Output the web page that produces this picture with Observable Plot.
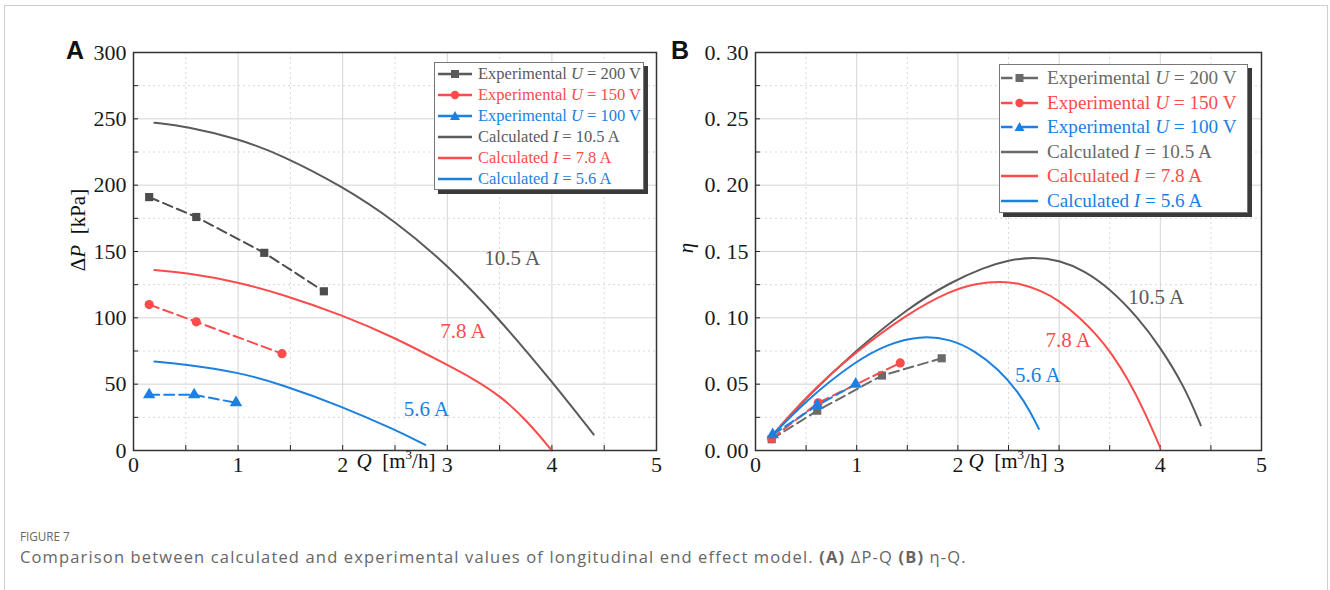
<!DOCTYPE html>
<html><head><meta charset="utf-8">
<script src="https://cdn.jsdelivr.net/npm/d3@7"></script>
<script src="https://cdn.jsdelivr.net/npm/@observablehq/plot@0.6"></script>
<style>
body{margin:0;background:#fff;}
#fig{position:relative;width:1330px;height:590px;overflow:hidden;font-family:"Liberation Serif",serif;}
.border{position:absolute;left:4px;top:5px;width:1322px;height:620px;border:1px solid #cfcfcf;}
.letter{position:absolute;font-family:"Liberation Sans",Arial,sans-serif;font-weight:bold;font-size:25px;color:#111;}
.axlab{position:absolute;font-size:21px;color:#111;white-space:nowrap;}
.legend{position:absolute;background:#fff;border:1px solid #777;box-shadow:4px 4px 0 #3a3a3a;}
.row{position:absolute;left:0;white-space:nowrap;display:flex;align-items:center;}
.row svg{display:block;}
.cap1{position:absolute;left:20px;top:527px;font-family:"Open Sans",sans-serif;font-size:13px;color:#666;transform:scaleX(0.9);transform-origin:left;}
.cap2{position:absolute;left:20px;top:545px;font-family:"Open Sans",sans-serif;font-size:16.5px;letter-spacing:1.15px;color:#666;white-space:nowrap;}
</style></head>
<body><div id="fig"><div class="border"></div></div>
<script>
// ---------- data ----------
const GRAY = "#5a5a5a", GRAYEXP = "#4d4d4d", GRAYEXP_B = "#6a6a6a", RED = "#fb4b4b", BLUE = "#1b80df";

const xMajor = [0, 1, 2, 3, 4, 5];
const xMinor = [0.5, 1.5, 2.5, 3.5, 4.5];
const yMajorA = [0, 50, 100, 150, 200, 250, 300];
const yMinorA = [25, 75, 125, 175, 225, 275];
const yMajorB = [0, 0.05, 0.10, 0.15, 0.20, 0.25, 0.30];
const yMinorB = [0.025, 0.075, 0.125, 0.175, 0.225, 0.275];

// Panel A: calculated ΔP (kPa) vs Q (m3/h)
const qCalcA105 = [0.2, 0.5, 1, 1.41, 2, 2.5, 3, 3.5, 4, 4.4];
const pCalc105  = [247, 244.5, 235, 223, 199, 173, 140, 99, 52, 12];
const qCalcA78  = [0.2, 0.5, 1, 1.41, 2, 2.5, 3, 3.25, 3.5, 3.75, 4];
const pCalc78   = [136, 134, 127, 118, 102, 85, 64.5, 54, 41.5, 23.5, 0];
const qCalcA56  = [0.2, 0.5, 1, 1.41, 2, 2.5, 2.79];
const pCalc56   = [67, 65, 59, 50, 33, 15.6, 4.3];

// Experimental
const qExp200 = [0.15, 0.6, 1.25, 1.82];
const pExp200 = [191, 176, 149, 120];
const qExp150 = [0.15, 0.6, 1.42];
const pExp150 = [110, 97, 73];
const qExp100 = [0.15, 0.58, 0.98];
const pExp100 = [42, 42, 36];

// Panel B: efficiency η vs Q
const qCalcB105 = [0.15, 0.5, 1, 1.5, 1.93, 2.26, 2.5, 2.75, 3, 3.25, 3.5, 3.77, 4, 4.24, 4.4];
const eCalc105  = [0.010, 0.040, 0.076, 0.107, 0.127, 0.138, 0.1435, 0.146, 0.1435, 0.1355, 0.122, 0.101, 0.078, 0.048, 0.019];
const qCalcB78  = [0.15, 0.5, 1, 1.5, 1.93, 2.18, 2.42, 2.6, 2.82, 3.0, 3.2, 3.38, 3.52, 3.68, 3.85, 4.0];
const eCalc78   = [0.010, 0.041, 0.075, 0.103, 0.1206, 0.126, 0.1276, 0.1262, 0.1206, 0.113, 0.1005, 0.0865, 0.073, 0.054, 0.0286, 0.002];
const qCalcB56  = [0.15, 0.5, 1, 1.3, 1.62, 1.93, 2.16, 2.4, 2.6, 2.72, 2.8];
const eCalc56   = [0.010, 0.038, 0.068, 0.080, 0.0866, 0.084, 0.0754, 0.0616, 0.0437, 0.0286, 0.0163];

const qExpB200 = [0.16, 0.61, 1.25, 1.84];
const eExp200  = [0.0085, 0.030, 0.0565, 0.0695];
const qExpB150 = [0.16, 0.62, 1.43];
const eExp150  = [0.009, 0.036, 0.066];
const qExpB100 = [0.17, 0.61, 0.99];
const eExp100  = [0.012, 0.034, 0.050];

const curveLabels = ["10.5 A", "7.8 A", "5.6 A"];
const labelColors = [GRAY, RED, BLUE];
const labelQA = [3.62, 3.15, 2.8];
const labelPA = [145, 90, 31];
const labelQB = [3.96, 3.09, 2.79];
const labelEB = [0.1155, 0.083, 0.0565];

const legendNames = [
  ["Experimental ", "U", " = 200 V"],
  ["Experimental ", "U", " = 150 V"],
  ["Experimental ", "U", " = 100 V"],
  ["Calculated ", "I", " = 10.5 A"],
  ["Calculated ", "I", " = 7.8 A"],
  ["Calculated ", "I", " = 5.6 A"]
];

// ---------- helpers ----------
const zip = (xs, ys) => xs.map((x, i) => ({x, y: ys[i]}));
const fig = document.getElementById("fig");

function panel({left, width, height, mL, mR, mT, mB, yDomain, yMajor, yMinor, yFmt, calc, exp, expColors, labQ, labV}) {
  const plotW = width - mL - mR, plotH = height - mT - mB;
  const symbols = ["square", "circle", "triangle"];
  const marks = [
    Plot.gridX(xMinor, {stroke: "#d8d8d8", strokeOpacity: 1, strokeDasharray: "2,3"}),
    Plot.gridY(yMinor, {stroke: "#d8d8d8", strokeOpacity: 1, strokeDasharray: "2,3"}),
    Plot.gridX(xMajor, {stroke: "#d4d4d4", strokeOpacity: 1}),
    Plot.gridY(yMajor, {stroke: "#d4d4d4", strokeOpacity: 1}),
    Plot.tickX(xMajor.concat(xMinor), {x: d => d, stroke: "#222", insetTop: plotH - 5}),
    Plot.tickY(yMajor.concat(yMinor), {y: d => d, stroke: "#222", insetRight: plotW - 5}),
    Plot.axisX({ticks: xMajor, tickSize: 0, tickPadding: 6, label: null, tickFormat: d => String(d), fontSize: 22}),
    Plot.axisY({ticks: yMajor, tickSize: 0, tickPadding: 7, label: null, tickFormat: yFmt, fontSize: 22})
  ];
  calc.forEach((c) => marks.push(Plot.line(c.data, {x: "x", y: "y", stroke: c.color, strokeWidth: 2, curve: "basis"})));
  exp.forEach((e, i) => {
    marks.push(Plot.line(e.data, {x: "x", y: "y", stroke: expColors[i], strokeWidth: 2, strokeDasharray: "10,5"}));
    marks.push(Plot.dot(e.data, {x: "x", y: "y", fill: expColors[i], stroke: "none", symbol: symbols[i], r: 4.6}));
  });
  marks.push(Plot.text(curveLabels.map((t, i) => ({t, x: labQ[i], y: labV[i], c: labelColors[i]})),
    {x: "x", y: "y", text: "t", fill: d => d.c, fontSize: 21, fontFamily: "Liberation Serif"}));
  marks.push(Plot.frame({stroke: "#333", strokeWidth: 1.5}));
  const svg = Plot.plot({
    width, height, marginLeft: mL, marginRight: mR, marginTop: mT, marginBottom: mB,
    x: {domain: [0, 5]}, y: {domain: yDomain},
    style: {fontFamily: "Liberation Serif, serif", fontSize: "22px", color: "#1a1a1a", background: "transparent", overflow: "visible"},
    marks
  });
  svg.style.position = "absolute"; svg.style.left = left + "px"; svg.style.top = "0px";
  fig.appendChild(svg);
}

panel({left: 0, width: 665, height: 485, mL: 133, mR: 9, mT: 52, mB: 35,
  yDomain: [0, 300], yMajor: yMajorA, yMinor: yMinorA, yFmt: d => String(d),
  calc: [{data: zip(qCalcA105, pCalc105), color: GRAY}, {data: zip(qCalcA78, pCalc78), color: RED}, {data: zip(qCalcA56, pCalc56), color: BLUE}],
  exp: [{data: zip(qExp200, pExp200)}, {data: zip(qExp150, pExp150)}, {data: zip(qExp100, pExp100)}],
  expColors: [GRAYEXP, RED, BLUE], labQ: labelQA, labV: labelPA});

panel({left: 665, width: 665, height: 485, mL: 90, mR: 69, mT: 52, mB: 35,
  yDomain: [0, 0.30], yMajor: yMajorB, yMinor: yMinorB, yFmt: d => d3.format(".2f")(d).replace(".", ". "),
  calc: [{data: zip(qCalcB105, eCalc105), color: GRAY}, {data: zip(qCalcB78, eCalc78), color: RED}, {data: zip(qCalcB56, eCalc56), color: BLUE}],
  exp: [{data: zip(qExpB200, eExp200)}, {data: zip(qExpB150, eExp150)}, {data: zip(qExpB100, eExp100)}],
  expColors: [GRAYEXP_B, RED, BLUE], labQ: labelQB, labV: labelEB});

// ---------- overlays ----------
function add(html, cls, style) {
  const d = document.createElement("div");
  d.className = cls; d.innerHTML = html; Object.assign(d.style, style); fig.appendChild(d); return d;
}
add("A", "letter", {left: "66px", top: "36px"});
add("B", "letter", {left: "671px", top: "36px"});
add("Δ<i>P</i>&nbsp;&nbsp;[kPa]", "axlab", {left: "78px", top: "230px", transform: "translate(-50%,-50%) rotate(-90deg)"});
add("<i>η</i>", "axlab", {left: "686px", top: "248px", transform: "translate(-50%,-50%) rotate(-90deg)"});
const qLab = "<i>Q</i>&nbsp;&nbsp;[m<sup style='font-size:13px;vertical-align:9px;line-height:0'>3</sup>/h]";
add(qLab, "axlab", {left: "396px", top: "461px", transform: "translate(-50%,-50%)"});
add(qLab, "axlab", {left: "1008px", top: "461px", transform: "translate(-50%,-50%)"});

function swatch(i, w, color, dashed) {
  const h = 12, cy = 6, cx = w / 2;
  let s = `<svg width="${w}" height="${h}">`;
  if (i < 3 && dashed) {
    s += `<line x1="0" x2="${cx - 7}" y1="${cy}" y2="${cy}" stroke="${color}" stroke-width="2.5"/>`;
    s += `<line x1="${cx + 2}" x2="${w}" y1="${cy}" y2="${cy}" stroke="${color}" stroke-width="2.5"/>`;
  } else {
    s += `<line x1="0" x2="${w}" y1="${cy}" y2="${cy}" stroke="${color}" stroke-width="2.5"/>`;
  }
  if (i === 0) s += `<rect x="${cx - 4}" y="${cy - 4}" width="8" height="8" fill="${color}"/>`;
  if (i === 1) s += `<circle cx="${cx}" cy="${cy}" r="4.2" fill="${color}"/>`;
  if (i === 2) s += `<path d="M${cx},${cy - 5}L${cx + 5},${cy + 4}L${cx - 5},${cy + 4}Z" fill="${color}"/>`;
  return s + "</svg>";
}
function legend({left, top, w, h, rowTop, rowGap, swLeft, swW, textGap, fontSize, colors, dashed}) {
  const box = add("", "legend", {left: left + "px", top: top + "px", width: w + "px", height: h + "px"});
  legendNames.forEach((n, i) => {
    const r = document.createElement("div");
    r.className = "row";
    Object.assign(r.style, {top: (rowTop + i * rowGap) + "px", left: swLeft + "px", fontSize: fontSize + "px", color: colors[i % 3], height: "20px"});
    r.innerHTML = swatch(i, swW, colors[i % 3], dashed) +
      `<span style="margin-left:${textGap}px">${n[0]}<i>${n[1]}</i>${n[2]}</span>`;
    box.appendChild(r);
  });
}
legend({left: 434, top: 62, w: 208, h: 126, rowTop: 1, rowGap: 21, swLeft: 3, swW: 34, textGap: 6, fontSize: 16.5,
  colors: [GRAY, RED, BLUE], dashed: false});
legend({left: 999, top: 64, w: 247, h: 147, rowTop: 3, rowGap: 24.5, swLeft: 1, swW: 37, textGap: 9, fontSize: 19.2,
  colors: [GRAYEXP_B, RED, BLUE], dashed: true});

add("FIGURE 7", "cap1", {});
add("Comparison between calculated and experimental values of longitudinal end effect model. <b>(A)</b> ΔP-Q <b>(B)</b> η-Q.", "cap2", {});
</script></body></html>
